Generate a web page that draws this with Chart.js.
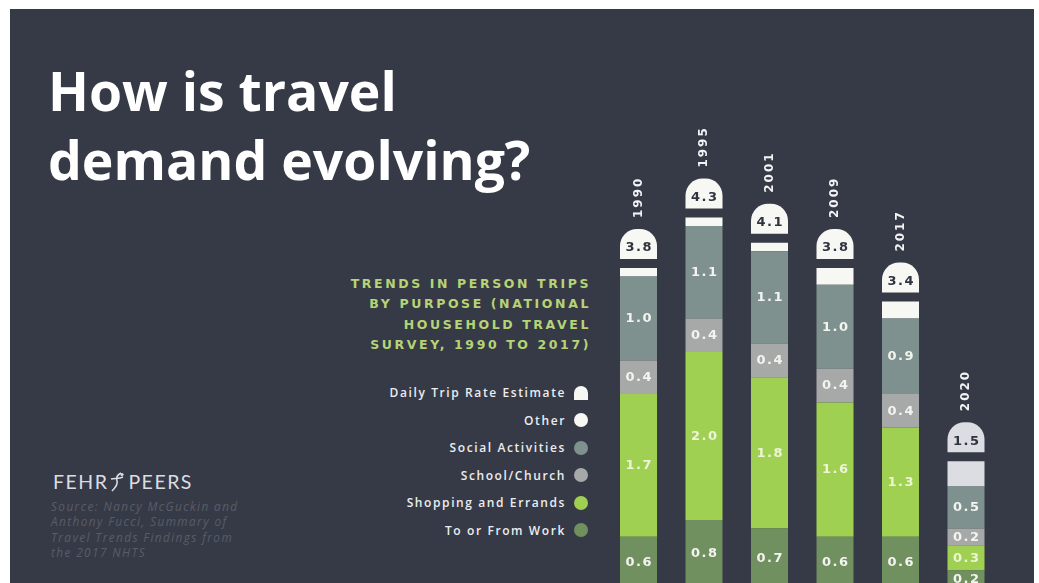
<!DOCTYPE html>
<html lang="en">
<head>
<meta charset="utf-8">
<title>How is travel demand evolving?</title>
<script src="https://cdn.jsdelivr.net/npm/chart.js@4/dist/chart.umd.min.js"></script>
<style>
  html, body { margin: 0; padding: 0; width: 1039px; height: 583px; overflow: hidden; background: #ffffff; }
  #panel { position: absolute; left: 10px; top: 9px; width: 1024px; height: 574px; background: #363a46; }
  #title { position: absolute; left: 48px; top: 56px; margin: 0; font: 700 53.5px/69px "Open Sans", sans-serif; color: #ffffff; white-space: nowrap; }
  #subtitle { position: absolute; right: 448px; top: 274px; text-align: right; font: 700 12.5px/20.3px "DejaVu Sans", sans-serif; letter-spacing: 2.6px; color: #b6d476; white-space: nowrap; }
  #legend { position: absolute; right: 451px; top: 379px; font: 600 12px "Open Sans", sans-serif; letter-spacing: 1.6px; color: #ecedef; }
  #legend .row { display: flex; justify-content: flex-end; align-items: center; height: 27.5px; }
  #legend .mark { width: 14px; height: 14px; margin-left: 8px; border-radius: 50%; }
  #legend .mark.cap { border-radius: 7px 7px 0 0; }
  #logo { position: absolute; left: 53px; top: 470px; font: 400 19.5px "Lato", sans-serif; letter-spacing: 1.5px; color: #dcdde2; white-space: nowrap; display: flex; align-items: center; }
  #logo svg { margin: 0 3px 0 1px; }
  #source { position: absolute; left: 51px; top: 499px; font: italic 400 11.8px/15.3px "Open Sans", sans-serif; letter-spacing: 1.4px; color: #585d69; white-space: nowrap; }
  #chartBox { position: absolute; left: 0; top: 0; width: 1039px; height: 583px; }
  #chartBox canvas { display: block; }
</style>
</head>
<body>
<div id="panel"></div>
<h1 id="title">How is travel<br>demand evolving?</h1>
<div id="subtitle">TRENDS IN PERSON TRIPS<br>BY PURPOSE (NATIONAL<br>HOUSEHOLD TRAVEL<br>SURVEY, 1990 TO 2017)</div>
<div id="legend"></div>
<div id="logo">FEHR<svg width="16" height="20" viewBox="0 0 16 20"><path d="M12 1 C8 3 7 6 8 9 C9 12 7 15 3 19" stroke="#dcdde2" stroke-width="1.6" fill="none"/><path d="M2 7 C6 6 10 7 14 5" stroke="#dcdde2" stroke-width="1.4" fill="none"/><circle cx="13" cy="2.5" r="1.6" fill="#dcdde2"/></svg>PEERS</div>
<div id="source">Source: Nancy McGuckin and<br>Anthony Fucci, Summary of<br>Travel Trends Findings from<br>the 2017 NHTS</div>
<div id="chartBox"><canvas id="chart" width="1039" height="583"></canvas></div>
<script>
// Survey years and daily person-trip rates (trips per person per day)
const years = ['1990', '1995', '2001', '2009', '2017', '2020'];
const dailyTripRate = [3.8, 4.3, 4.1, 3.8, 3.4, 1.5];

// Trips by purpose, stacked from the bottom up
const toFromWork       = [0.6, 0.8, 0.7, 0.6, 0.6, 0.2];
const shoppingErrands  = [1.7, 2.0, 1.8, 1.6, 1.3, 0.3];
const schoolChurch     = [0.4, 0.4, 0.4, 0.4, 0.4, 0.2];
const socialActivities = [1.0, 1.1, 1.1, 1.0, 0.9, 0.5];
const other            = [0.1, 0.1, 0.1, 0.2, 0.2, 0.3];

const COLORS = {
  work: '#71905f',
  shopping: '#9fd052',
  school: '#a6a9a8',
  social: '#7f918e',
  other: '#f7f7f4',
  otherLatest: '#dcdde2'
};
const otherColors = years.map((y, i) => i === years.length - 1 ? COLORS.otherLatest : COLORS.other);

const segment = (label, data, color, showValues) => ({
  label, data, backgroundColor: color, borderWidth: 0,
  barPercentage: 0.565, categoryPercentage: 1, showValues
});

const datasets = [
  segment('To or From Work', toFromWork, COLORS.work, true),
  segment('Shopping and Errands', shoppingErrands, COLORS.shopping, true),
  segment('School/Church', schoolChurch, COLORS.school, true),
  segment('Social Activities', socialActivities, COLORS.social, true),
  segment('Other', other, otherColors, false)
];

// Legend: daily rate badge first, then purposes from the top of the stack down
const legendEl = document.getElementById('legend');
function addLegendRow(text, color, isCap) {
  const row = document.createElement('div');
  row.className = 'row';
  const span = document.createElement('span');
  span.textContent = text;
  const mark = document.createElement('span');
  mark.className = 'mark' + (isCap ? ' cap' : '');
  mark.style.background = color;
  row.appendChild(span);
  row.appendChild(mark);
  legendEl.appendChild(row);
}
addLegendRow('Daily Trip Rate Estimate', COLORS.other, true);
datasets.slice().reverse().forEach(ds => addLegendRow(ds.label, Array.isArray(ds.backgroundColor) ? ds.backgroundColor[0] : ds.backgroundColor, false));

// Values written in the middle of each purpose segment
const segmentValues = {
  id: 'segmentValues',
  afterDatasetsDraw(chart) {
    const ctx = chart.ctx;
    ctx.save();
    ctx.font = 'bold 13px "DejaVu Sans", sans-serif';
    ctx.letterSpacing = '1.5px';
    ctx.textAlign = 'center';
    ctx.textBaseline = 'middle';
    chart.data.datasets.forEach((ds, i) => {
      if (!ds.showValues) return;
      chart.getDatasetMeta(i).data.forEach((bar, j) => {
        const p = bar.getProps(['x', 'y', 'base'], true);
        ctx.fillStyle = ds.label === 'Shopping and Errands' ? '#eef4d6' : '#f3f4f0';
        ctx.fillText(ds.data[j].toFixed(1), p.x + 0.75, (p.y + p.base) / 2 + 0.5);
      });
    });
    ctx.restore();
  }
};

// Rounded badge with the daily trip rate, and the survey year above it
const rateBadges = {
  id: 'rateBadges',
  afterDatasetsDraw(chart) {
    const ctx = chart.ctx;
    const last = chart.data.datasets.length - 1;
    const bars = chart.getDatasetMeta(last).data;
    ctx.save();
    bars.forEach((bar, j) => {
      const p = bar.getProps(['x', 'y', 'width'], true);
      const w = p.width, h = 30;
      const bottom = p.y - 9, top = bottom - h;
      ctx.fillStyle = otherColors[j];
      ctx.beginPath();
      ctx.roundRect(p.x - w / 2, top, w, h, [17, 17, 0, 0]);
      ctx.fill();

      ctx.fillStyle = '#30343f';
      ctx.font = 'bold 13px "DejaVu Sans", sans-serif';
      ctx.letterSpacing = '1.5px';
      ctx.textAlign = 'center';
      ctx.textBaseline = 'middle';
      ctx.fillText(dailyTripRate[j].toFixed(1), p.x + 0.75, bottom - 11);

      ctx.save();
      ctx.translate(p.x, top - 11);
      ctx.rotate(-Math.PI / 2);
      ctx.fillStyle = '#f2f3f5';
      ctx.font = 'bold 12px "DejaVu Sans", sans-serif';
      ctx.letterSpacing = '2px';
      ctx.textAlign = 'left';
      ctx.textBaseline = 'middle';
      ctx.fillText(chart.data.labels[j], 0, 0);
      ctx.restore();
    });
    ctx.restore();
  }
};

// The stacks start just below the bottom edge of the page, so the value axis
// begins slightly above zero and the lowest segments run off the bottom.
new Chart(document.getElementById('chart'), {
  type: 'bar',
  data: { labels: years, datasets },
  options: {
    responsive: false,
    animation: false,
    devicePixelRatio: 1,
    layout: { padding: { left: 605.75, right: 40.25, top: 0, bottom: 0 } },
    plugins: { legend: { display: false }, tooltip: { enabled: false } },
    scales: {
      x: { stacked: true, display: false },
      y: { stacked: true, display: false, min: 0.05, max: 6.99 }
    }
  },
  plugins: [segmentValues, rateBadges]
});
</script>
</body>
</html>
